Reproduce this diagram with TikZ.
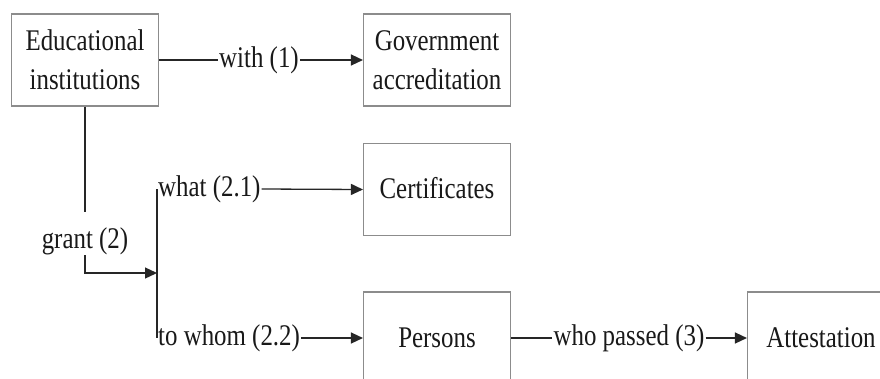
\documentclass[tikz,border=0pt]{standalone}
\usepackage{fontspec}
\setmainfont{Liberation Serif}[FakeStretch=0.83]
\usetikzlibrary{arrows.meta}
\begin{document}
\begin{tikzpicture}[x=1pt,y=-1pt,
  box/.style={draw=black!45,line width=1.1pt,fill=white,minimum width=147pt,minimum height=92pt,inner sep=0pt,align=center,text=black!90,font=\fontsize{30pt}{39pt}\selectfont},
  lbl/.style={inner xsep=1pt,inner ysep=0pt,text=black!90,font=\fontsize{30pt}{34pt}\selectfont},
  con/.style={draw=black!85,line width=1.3pt},
  arr/.style={con,-{Triangle[length=12pt,width=11pt]}}]
\useasboundingbox (0,0) rectangle (880,378);
\clip (0,0) rectangle (880,378);
\fill[white] (0,0) rectangle (880,378);
% boxes
\node[box] (edu) at (85,60) {Educational\\institutions};
\node[box] (gov) at (437,60) {Government\\accreditation};
\node[box] (cert) at (437,189.5) {\raisebox{3pt}{Certificates}};
\node[box] (pers) at (437,338) {Persons};
\node[box] (att) at (821,338) {Attestation};
% labels
\node[lbl] (with) at (259,60) {with (1)};
\node[lbl,anchor=base,text height=36pt,text depth=7pt] (grant) at (85,248) {grant (2)};
\node[lbl,anchor=west] (what) at (157,189) {what (2.1)};
\node[lbl,anchor=west] (whom) at (157,338) {to whom (2.2)};
\node[lbl] (passed) at (629,338) {who passed (3)};
\coordinate (bt) at (157,189);
\coordinate (bb) at (157,338);
\coordinate (bm) at (157,273);
% connectors
\draw[con] (edu.east) -- (with.west);
\draw[arr] (with.east) -- (gov.west);
\draw[con] (edu.south) -- (grant.north);
\draw[arr] (grant.south) |- (bm);
\draw[con] (bt) -- (bb);
\draw[con] (bt) -- (what.west);
\draw[con] (bb) -- (whom.west);
\draw[arr] (what.east) -- (cert.west);
\draw[arr] (whom.east) -- (pers.west);
\draw[con] (pers.east) -- (passed.west);
\draw[arr] (passed.east) -- (att.west);
\end{tikzpicture}
\end{document}
